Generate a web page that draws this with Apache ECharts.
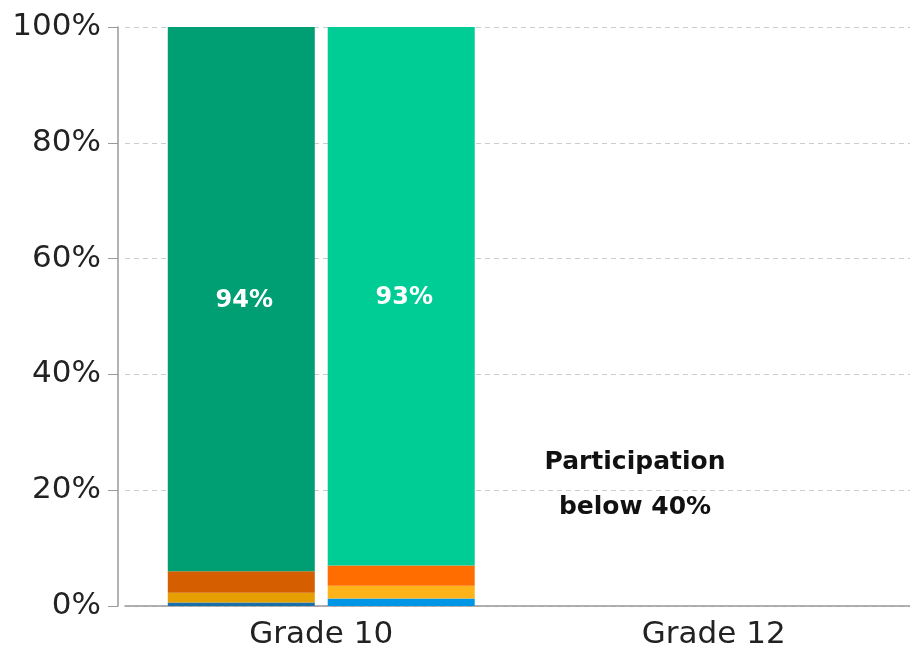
<!DOCTYPE html>
<html><head><meta charset="utf-8">
<script src="https://cdn.jsdelivr.net/npm/echarts@6/dist/echarts.min.js"></script>
<style>html,body{margin:0;padding:0;background:#fff}#c{width:910px;height:661px}</style>
</head><body><div id="c"></div>
<script>
const categories = ['Grade 10', 'Grade 12'];
const yTicks = [0, 20, 40, 60, 80, 100];
// stack A (left bar)
const a_blue   = [0.6, null];
const a_yellow = [1.7, null];
const a_orange = [3.7, null];
const a_green  = [94.0, null];
// stack B (right bar)
const b_blue   = [1.3, null];
const b_yellow = [2.2, null];
const b_orange = [3.5, null];
const b_green  = [93.0, null];
const note = ['Participation', 'below 40%'];

const font = 'DejaVu Sans';
function seg(data, stack, color, label) {
  return {
    type: 'bar', stack: stack, data: data, barWidth: 147, barGap: '8.8%',
    itemStyle: { color: color }, silent: true,
    label: label ? { show: true, position: 'inside', offset: [3, 2], color: '#fff', fontWeight: 'bold',
      fontSize: 24, fontFamily: font, formatter: p => Math.round(p.value) + '%' } : { show: false }
  };
}
const chart = echarts.init(document.getElementById('c'));
chart.setOption({
  animation: false,
  grid: { left: 125, right: 0, top: 27, bottom: 55 },
  xAxis: {
    type: 'category', data: categories,
    axisLine: { lineStyle: { color: '#999', width: 1.5 } },
    axisTick: { show: false },
    axisLabel: { color: '#222', fontSize: 31, fontFamily: font, margin: 13 }
  },
  yAxis: {
    type: 'value', min: 0, max: 100, interval: 20, offset: 7,
    axisLine: { show: true, lineStyle: { color: '#999', width: 1.5 } },
    axisTick: { show: true, length: 10, lineStyle: { color: '#999' } },
    axisLabel: { color: '#222', fontSize: 31, fontFamily: font, margin: 17,
      formatter: v => yTicks.includes(v) ? v + '%' : '' },
    splitLine: { show: true, lineStyle: { color: '#ccc', type: [5, 4] } }
  },
  series: [
    seg(a_blue, 'a', '#1a6fa8'),
    seg(a_yellow, 'a', '#e69f00'),
    seg(a_orange, 'a', '#d55e00'),
    seg(a_green, 'a', '#009e73', true),
    seg(b_blue, 'b', '#0096e6'),
    seg(b_yellow, 'b', '#ffb31a'),
    seg(b_orange, 'b', '#ff6d00'),
    seg(b_green, 'b', '#00cc96', true)
  ],
  graphic: [{
    type: 'text', x: 635, y: 440,
    style: { text: note.join('\n'), textAlign: 'center', fill: '#111',
      font: 'bold 25px "' + font + '"', lineHeight: 45 }
  }]
});
</script></body></html>
